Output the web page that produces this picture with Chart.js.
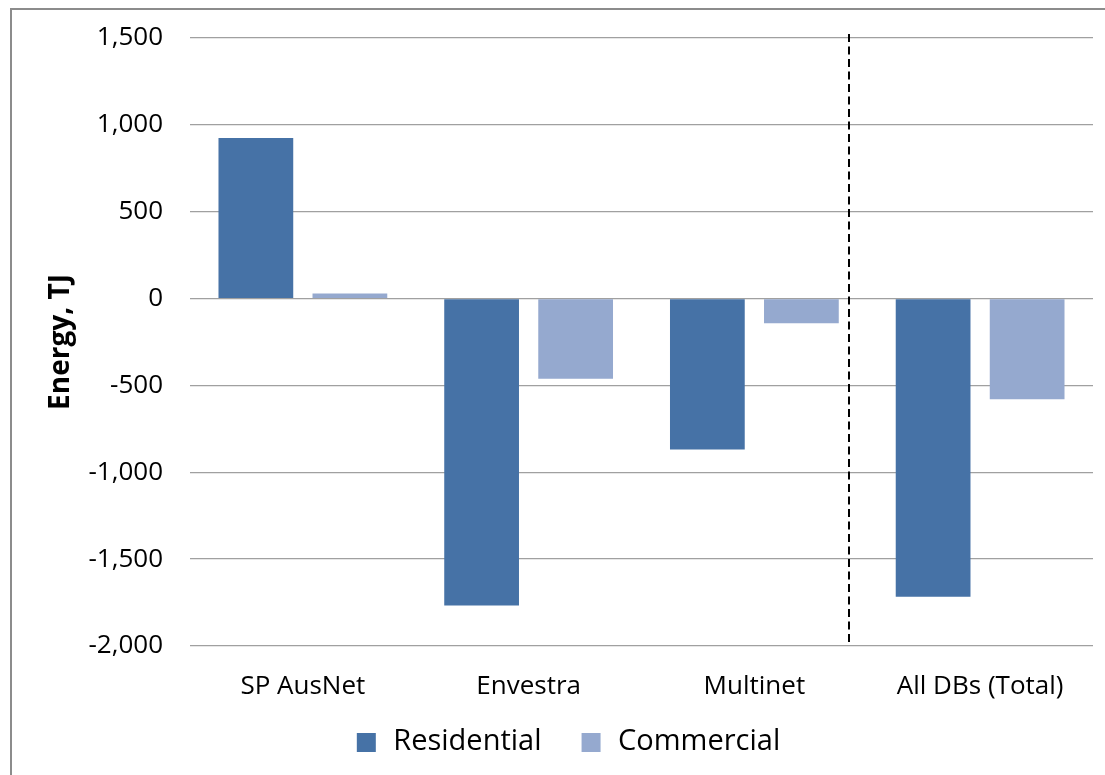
<!DOCTYPE html>
<html>
<head>
<meta charset="utf-8">
<script src="https://cdn.jsdelivr.net/npm/chart.js@4/dist/chart.umd.min.js"></script>
<style>
  html, body { margin: 0; padding: 0; background: #fff; }
  #wrap { width: 1105px; height: 775px; }
</style>
</head>
<body>
<div id="wrap"><canvas id="energy-chart" width="1105" height="775"></canvas></div>
<script>
const categories = ['SP AusNet', 'Envestra', 'Multinet', 'All DBs (Total)'];
const residential = [925, -1767, -869, -1716];
const commercial = [29, -462, -142, -579];
const yMin = -2000;
const yMax = 1500;
const yStep = 500;
// dashed divider sits between Multinet and the total, in category index units
const dividerAt = 2.42;

const font = "'Open Sans', 'DejaVu Sans', sans-serif";
const resColor = '#4672a6';
const comColor = '#95a9cf';

// legend swatch: 19px square pushed to the right of a wider transparent box,
// so the gap before each item is bigger than the gap to its text
function swatch(color) {
    const c = document.createElement('canvas');
    c.width = 42;
    c.height = 19;
    const g = c.getContext('2d');
    g.fillStyle = color;
    g.fillRect(20, 0, 19, 19);
    return c;
}

const frameAndDivider = {
    id: 'frameAndDivider',
    beforeDraw(chart) {
        const ctx = chart.ctx;
        ctx.save();
        ctx.strokeStyle = '#8c8c8c';
        ctx.lineWidth = 2;
        ctx.strokeRect(11, 9, chart.width + 10, chart.height + 10);
        ctx.restore();
    },
    afterDatasetsDraw(chart) {
        const ctx = chart.ctx;
        const x = chart.scales.x.getPixelForValue(dividerAt);
        const area = chart.chartArea;
        ctx.save();
        ctx.strokeStyle = '#000';
        ctx.lineWidth = 2;
        ctx.setLineDash([8, 4.5]);
        ctx.beginPath();
        ctx.moveTo(Math.round(x), area.top - 4);
        ctx.lineTo(Math.round(x), area.bottom);
        ctx.stroke();
        ctx.restore();
    }
};

new Chart(document.querySelector('#energy-chart'), {
    type: 'bar',
    data: {
        labels: categories,
        datasets: [{
            label: 'Residential',
            data: residential,
            backgroundColor: resColor,
            pointStyle: swatch(resColor),
            categoryPercentage: 0.833,
            barPercentage: 0.795
        }, {
            label: 'Commercial',
            data: commercial,
            backgroundColor: comColor,
            pointStyle: swatch(comColor),
            categoryPercentage: 0.833,
            barPercentage: 0.795
        }]
    },
    options: {
        responsive: false,
        animation: false,
        layout: {
            padding: { left: 24, right: 12, top: 38, bottom: 8.5 }
        },
        plugins: {
            legend: {
                position: 'bottom',
                labels: {
                    color: '#000',
                    font: { family: font, size: 29 },
                    usePointStyle: true,
                    pointStyleWidth: 42,
                    boxHeight: 19,
                    padding: 20
                }
            },
            tooltip: { enabled: false }
        },
        scales: {
            x: {
                afterFit(scale) { scale.height = 61.5; },
                grid: { display: false, drawTicks: false },
                border: { display: false },
                ticks: {
                    color: '#000',
                    font: { family: font, size: 26 },
                    padding: 25.4
                }
            },
            y: {
                min: yMin,
                max: yMax,
                afterFit(scale) {
                    scale.width = 166;
                    scale.paddingTop = 0;
                },
                grid: { color: '#a0a0a0', lineWidth: 1.3, drawTicks: false },
                border: { display: false },
                ticks: {
                    stepSize: yStep,
                    color: '#000',
                    font: { family: font, size: 26 },
                    padding: 27,
                    callback: v => v.toLocaleString('en-US')
                },
                title: {
                    display: true,
                    text: 'Energy, TJ',
                    color: '#000',
                    font: { family: font, size: 28, weight: 'bold' },
                    padding: { top: 20.7, bottom: 0 }
                }
            }
        }
    },
    plugins: [frameAndDivider]
});
</script>
</body>
</html>
